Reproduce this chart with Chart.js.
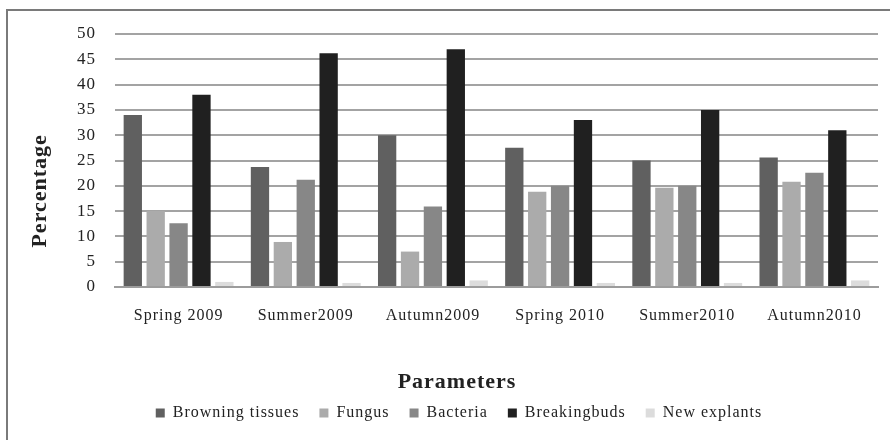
<!DOCTYPE html>
<html>
<head>
<meta charset="utf-8">
<script src="https://cdn.jsdelivr.net/npm/chart.js@4/dist/chart.umd.min.js"></script>
<style>
  html, body { margin: 0; padding: 0; background: #ffffff; }
  #wrap { position: relative; width: 890px; height: 440px; overflow: hidden; }
  #frame {
    position: absolute; left: 6px; top: 9px; width: 900px; height: 450px;
    border-left: 2px solid #7a7a7a; border-top: 2px solid #7a7a7a;
    pointer-events: none;
  }
  canvas { position: absolute; left: 0; top: 0; }
</style>
</head>
<body>
<div id="wrap">
  <canvas id="chart" width="890" height="440"></canvas>
  <div id="frame"></div>
</div>
<script>
// Seasons sampled
const seasons = ['Spring 2009', 'Summer2009', 'Autumn2009', 'Spring 2010', 'Summer2010', 'Autumn2010'];

// Percentage of explants per outcome, one value per season
const browningTissues = [34, 23.7, 30, 27.5, 25, 25.6];
const fungus          = [15, 8.9, 7, 18.8, 19.6, 20.8];
const bacteria        = [12.6, 21.2, 15.9, 20, 20, 22.6];
const breakingBuds    = [38, 46.2, 47, 33, 35, 31];
const newExplants     = [1, 0.8, 1.3, 0.8, 0.8, 1.3];

// Y axis ticks
const yTicks = [0, 5, 10, 15, 20, 25, 30, 35, 40, 45, 50];

const serif = "'Liberation Serif', 'DejaVu Serif', serif";
const ink = '#222222';

const series = [
  { label: 'Browning tissues', data: browningTissues, color: '#606060' },
  { label: 'Fungus',           data: fungus,          color: '#ababab' },
  { label: 'Bacteria',         data: bacteria,        color: '#878787' },
  { label: 'Breakingbuds',     data: breakingBuds,    color: '#202020' },
  { label: 'New explants',     data: newExplants,     color: '#dcdcdc' }
];

// Loose letter spacing for all canvas text, plus the two axis titles,
// which are centred on the framed figure rather than on the plot area
const typography = {
  id: 'typography',
  beforeLayout(chart) { chart.ctx.letterSpacing = '1px'; },
  beforeDraw(chart) { chart.ctx.letterSpacing = '1px'; },
  afterDraw(chart) {
    const { ctx, chartArea } = chart;
    ctx.save();
    ctx.letterSpacing = '1px';
    ctx.font = 'bold 22px ' + serif;
    ctx.fillStyle = ink;
    ctx.textAlign = 'center';
    ctx.textBaseline = 'middle';
    ctx.fillText('Parameters', 457, chartArea.bottom + 95);
    ctx.translate(40, chartArea.top + (chartArea.bottom - chartArea.top) * 0.62);
    ctx.rotate(-Math.PI / 2);
    ctx.fillText('Percentage', 0, 0);
    ctx.restore();
  }
};

new Chart(document.getElementById('chart'), {
  type: 'bar',
  data: {
    labels: seasons,
    datasets: series.map(s => ({
      label: s.label,
      data: s.data,
      backgroundColor: s.color,
      borderWidth: 0,
      categoryPercentage: 0.9,
      barPercentage: 0.8
    }))
  },
  plugins: [typography],
  options: {
    responsive: false,
    animation: false,
    layout: { padding: { top: 34, right: 12, bottom: 9, left: 40 } },
    plugins: {
      tooltip: { enabled: false },
      legend: {
        position: 'bottom',
        labels: {
          font: { family: serif, size: 16 },
          color: ink,
          boxWidth: 9,
          boxHeight: 9,
          padding: 20
        }
      }
    },
    scales: {
      x: {
        grid: { display: false, drawTicks: false },
        border: { display: true, color: '#9c9c9c', width: 2 },
        ticks: {
          font: { family: serif, size: 16 },
          color: ink,
          padding: 19,
          maxRotation: 0
        },
        afterFit(scale) { scale.height = 98; }
      },
      y: {
        min: 0,
        max: 50,
        afterBuildTicks(scale) { scale.ticks = yTicks.map(v => ({ value: v })); },
        grid: { color: '#a3a3a3', lineWidth: 2, drawTicks: false },
        border: { display: false },
        ticks: {
          font: { family: serif, size: 17 },
          color: ink,
          padding: 19
        },
        afterFit(scale) { scale.width = 75; }
      }
    }
  }
});
</script>
</body>
</html>
